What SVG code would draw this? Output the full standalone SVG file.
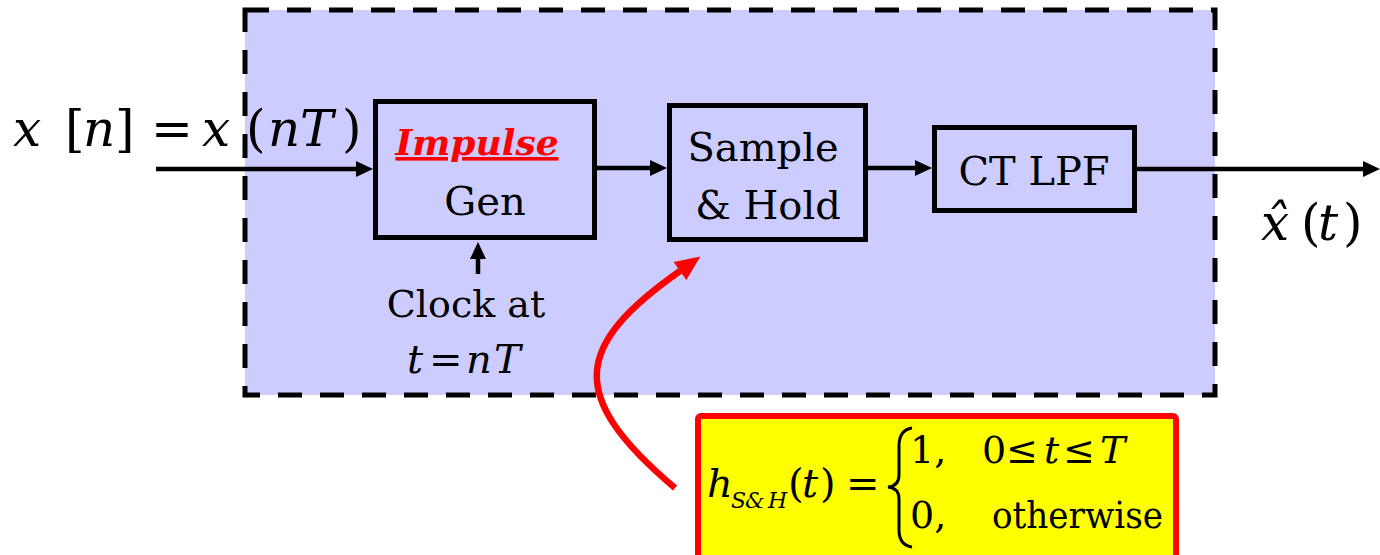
<svg xmlns="http://www.w3.org/2000/svg" width="1380" height="555" viewBox="0 0 1380 555" font-family="'DejaVu Serif', serif">
  <style>
    .lbl { font-size: 40px; }
    .math { font-size: 50px; }
    .it { font-style: italic; }
    .box { fill: none; stroke: #000; stroke-width: 5; }
    .wire { stroke: #000; stroke-width: 4.5; fill: none; }
  </style>
  <defs>
    <marker id="ah" markerUnits="userSpaceOnUse" markerWidth="18" markerHeight="18" refX="0" refY="8" orient="auto" overflow="visible">
      <path d="M0,0 L17,8 L0,16 Z" fill="#000"/>
    </marker>
    <marker id="ahRed" markerUnits="userSpaceOnUse" markerWidth="26" markerHeight="24" refX="0" refY="11" orient="auto" overflow="visible">
      <path d="M0,0 L25,11 L0,22 Z" fill="#FF0000"/>
    </marker>
  </defs>

  <!-- shaded system boundary -->
  <g id="system">
    <rect x="245" y="10" width="970" height="385" fill="#CCCCFF"/>
    <rect x="245" y="10" width="970" height="385" fill="none" stroke="#000" stroke-width="5" stroke-dasharray="24 18"/>
  </g>

  <!-- input label -->
  <g id="input-label">
    <text class="math" y="146"><tspan class="it" x="13">x</tspan><tspan x="65">[</tspan><tspan class="it" x="83">n</tspan><tspan x="115">]</tspan><tspan x="151">=</tspan><tspan class="it" x="202">x</tspan><tspan x="246">(</tspan><tspan class="it" x="268">n</tspan><tspan class="it" x="300">T</tspan><tspan x="342">)</tspan></text>
  </g>

  <!-- connectors -->
  <g id="connectors">
    <line class="wire" x1="156" y1="169" x2="356" y2="169" marker-end="url(#ah)"/>
    <line class="wire" x1="597" y1="168" x2="650" y2="168" marker-end="url(#ah)"/>
    <line class="wire" x1="868" y1="168" x2="915" y2="168" marker-end="url(#ah)"/>
    <line class="wire" x1="1137" y1="169" x2="1363" y2="169" marker-end="url(#ah)"/>
    <line class="wire" x1="478" y1="274" x2="478" y2="259" marker-end="url(#ah)"/>
    <path d="M675,488 C565,395 575,345 680,271" fill="none" stroke="#FF0000" stroke-width="6.5" marker-end="url(#ahRed)"/>
  </g>

  <!-- impulse generator -->
  <g id="impulse-gen">
    <rect class="box" x="375.5" y="101.5" width="219" height="136"/>
    <text x="477" y="155" text-anchor="middle" font-size="36" font-weight="bold" font-style="italic" text-decoration="underline" fill="#FF0000">Impulse</text>
    <text class="lbl" x="485" y="215" text-anchor="middle">Gen</text>
  </g>

  <!-- sample and hold -->
  <g id="sample-hold">
    <rect class="box" x="669.5" y="105.5" width="196" height="134"/>
    <text class="lbl" x="763" y="161" text-anchor="middle">Sample</text>
    <text class="lbl" x="768" y="219" text-anchor="middle">&amp; Hold</text>
  </g>

  <!-- reconstruction filter -->
  <g id="ct-lpf">
    <rect class="box" x="934.5" y="127.5" width="200" height="83"/>
    <text class="lbl" x="1034" y="185" text-anchor="middle">CT LPF</text>
  </g>

  <!-- clock input -->
  <g id="clock">
    <text font-size="38" x="466" y="317" text-anchor="middle">Clock at</text>
    <text class="lbl" y="373"><tspan class="it" x="407">t</tspan><tspan x="429">=</tspan><tspan class="it" x="466">n</tspan><tspan class="it" x="494">T</tspan></text>
  </g>

  <!-- output label -->
  <g id="output-label">
    <text font-size="50" y="240"><tspan class="it" x="1261">x̂</tspan><tspan x="1301">(</tspan><tspan class="it" x="1318">t</tspan><tspan x="1343">)</tspan></text>
  </g>

  <!-- impulse response of the sample-and-hold -->
  <g id="hold-response">
    <rect x="698" y="416" width="478" height="170" rx="3" fill="#FFFF00" stroke="#FF0000" stroke-width="6"/>
    <text font-size="40" y="497"><tspan class="it" x="707">h</tspan></text>
    <text font-size="22" y="508" class="it"><tspan x="731">S</tspan><tspan x="745">&amp;</tspan><tspan x="768">H</tspan></text>
    <text font-size="40" y="497"><tspan x="788">(</tspan><tspan class="it" x="802">t</tspan><tspan x="820">)</tspan><tspan x="846">=</tspan></text>
    <path d="M912,428 Q899,430 899,446 L899,475 Q899,486 888,487 Q899,488 899,499 L899,530 Q899,545 912,547" fill="none" stroke="#000" stroke-width="3"/>
    <text font-size="38" y="463"><tspan x="910">1,</tspan><tspan x="982">0</tspan><tspan x="1006">≤</tspan><tspan class="it" x="1044">t</tspan><tspan x="1063">≤</tspan><tspan class="it" x="1100">T</tspan></text>
    <text font-size="38" y="528"><tspan x="910">0,</tspan></text>
    <text font-size="38" y="528" x="992" textLength="171" lengthAdjust="spacingAndGlyphs">otherwise</text>
  </g>
</svg>
